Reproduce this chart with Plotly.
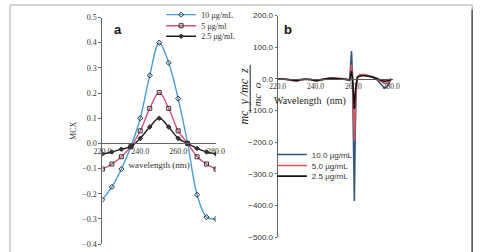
import plotly.graph_objects as go

W, H = 485, 252

# ---------------- data: panel a ----------------
wl_a = [220, 225, 230, 235, 240, 245, 250, 255, 260, 265, 270, 275, 280]
a_10 = [-0.223, -0.173, -0.102, -0.013, 0.100, 0.270, 0.400, 0.320, 0.178, 0.000, -0.204, -0.293, -0.300]
a_5 = [-0.102, -0.082, -0.053, -0.013, 0.050, 0.139, 0.202, 0.139, 0.050, 0.000, -0.053, -0.082, -0.102]
a_25 = [-0.042, -0.034, -0.023, -0.013, 0.020, 0.065, 0.100, 0.065, 0.020, 0.000, -0.020, -0.034, -0.042]
names_a = ["10 µg/mL", "5 µg/ml", "2.5 µg/mL"]
ticks_a_x = [220, 240, 260, 280]
ticks_a_y = [-0.4, -0.3, -0.2, -0.1, 0.0, 0.1, 0.2, 0.3, 0.4, 0.5]

# ---------------- data: panel b ----------------
wl_b = [220, 222, 224, 226, 228, 229, 230, 231, 232, 234, 236, 238, 239, 240, 241, 242, 244, 246, 248, 250,
        252, 254, 256, 257, 258, 258.5, 259, 259.5, 260, 260.5, 261, 261.5, 262, 263, 264, 266, 268, 270,
        272, 274, 275, 276, 277, 278, 279, 280]
b_10 = [0, 0, -1, -3, -5, -6, -6, -5, -3, -1, -1, -3, -6, -7, -6, -4, -1, 1, 2, 2,
        1, 0, -1, -3, -5, 40, 88, 10, -200, -385, -150, -20, 5, 10, 12, 12, 10, 6,
        0, -12, -20, -26, -27, -22, -12, 0]
b_5 = [0, 0, -1, -3, -5, -6, -6, -5, -3, -1, -1, -3, -6, -7, -6, -4, -1, 1, 2, 3,
       2, 1, 0, -2, -4, 20, 45, 5, -100, -195, -80, -10, 5, 12, 14, 14, 12, 8,
       2, -6, -10, -13, -14, -12, -7, 0]
b_25 = [0, 0, -1, -2, -4, -5, -5, -4, -2, -1, -1, -2, -5, -6, -5, -3, -1, 1, 2, 2,
        1, 0, -1, -2, -3, 12, 25, 2, -50, -95, -40, -5, 4, 8, 10, 10, 9, 6,
        2, -3, -5, -7, -7, -6, -4, 0]
names_b = ["10.0 µg/mL", "5.0 µg/mL", "2.5 µg/mL"]
ticks_b_x = [220, 240, 260, 280]
ticks_b_y = [-500, -400, -300, -200, -100, 0, 100, 200]

SERIF = "Liberation Serif"
SANS = "Liberation Sans"


def fx(px):
    return px / W


def fy(py):
    return 1 - py / H


# layout geometry (pixels)
ax_a = dict(x0=97, x1=215, y0=249, y1=14)
ax_b = dict(x0=279, x1=399, y0=242, y1=12)
ya_rng = [-0.4, 0.5]
yb_rng = [-500, 200]

dom_a_y = [fy(ax_a["y0"]), fy(ax_a["y1"])]
dom_b_y = [fy(ax_b["y0"]), fy(ax_b["y1"])]
zero_a = dom_a_y[0] + (0 - ya_rng[0]) / (ya_rng[1] - ya_rng[0]) * (dom_a_y[1] - dom_a_y[0])
zero_b = dom_b_y[0] + (0 - yb_rng[0]) / (yb_rng[1] - yb_rng[0]) * (dom_b_y[1] - dom_b_y[0])

fig = go.Figure()

cols_a = ["#4a9cd6", "#d9507e", "#1e1e1e"]
syms_a = ["diamond-open", "square-open", "diamond"]
msz_a = [4, 4, 3.5]
legs = ["legend", "legend2", "legend3", "legend4", "legend5", "legend6"]
for i, (ys, nm) in enumerate(zip([a_10, a_5, a_25], names_a)):
    fig.add_trace(go.Scatter(
        x=wl_a, y=ys, name=nm, mode="lines+markers",
        line=dict(color=cols_a[i], width=1.4, shape="spline", smoothing=1.0),
        marker=dict(symbol=syms_a[i], size=msz_a[i], color="#333333",
                    line=dict(color="#333333", width=1)),
        xaxis="x", yaxis="y", legend=legs[i]))

cols_b = ["#35567e", "#d9575a", "#141414"]
for i, (ys, nm) in enumerate(zip([b_10, b_5, b_25], names_b)):
    fig.add_trace(go.Scatter(
        x=wl_b, y=ys, name=nm, mode="lines",
        line=dict(color=cols_b[i], width=1.6),
        xaxis="x2", yaxis="y2", legend=legs[3 + i]))

tick_font_a = dict(family=SERIF, size=8, color="#333")
fig.update_layout(
    width=W, height=H, autosize=False,
    margin=dict(l=0, r=0, t=0, b=0),
    paper_bgcolor="white", plot_bgcolor="rgba(0,0,0,0)",
    xaxis=dict(domain=[fx(ax_a["x0"]), fx(ax_a["x1"])], range=[220, 280],
               anchor="free", position=zero_a,
               tickvals=ticks_a_x, tickformat=".1f", tickfont=tick_font_a,
               showgrid=False, zeroline=False, showline=True, linecolor="#666", linewidth=1,
               ticks="", title=dict(text="wavelength (nm)", font=dict(family=SERIF, size=9, color="#333"),
                                    standoff=6)),
    yaxis=dict(domain=dom_a_y, range=ya_rng, anchor="x",
               tickvals=ticks_a_y, tickformat=".1f", tickfont=tick_font_a,
               showgrid=False, zeroline=False, showline=True, linecolor="#666", linewidth=1,
               ticks="outside", ticklen=3, tickcolor="#666",
               title=dict(text="MCX", font=dict(family=SERIF, size=8, color="#333"), standoff=4)),
    xaxis2=dict(domain=[fx(ax_b["x0"]), fx(ax_b["x1"])], range=[220, 281],
                anchor="free", position=zero_b,
                tickvals=ticks_b_x, tickformat=".1f", tickfont=dict(family=SERIF, size=7.5, color="#333"),
                showgrid=False, zeroline=False, showline=True, linecolor="#555", linewidth=1, ticks=""),
    yaxis2=dict(domain=dom_b_y, range=yb_rng, anchor="x2",
                tickvals=ticks_b_y, tickformat=".1f", tickfont=dict(family=SANS, size=8, color="#333"),
                showgrid=False, zeroline=False, showline=True, linecolor="#666", linewidth=1,
                ticks="outside", ticklen=2, tickcolor="#666"),
    showlegend=True,
)

leg_a_font = dict(family=SERIF, size=8, color="#333")
leg_b_font = dict(family=SANS, size=8, color="#333")
leg_a_y = [11, 22.5, 33.5]
leg_b_y = [156, 167.5, 178.5]
for i in range(3):
    fig.update_layout({legs[i]: dict(x=fx(158), y=fy(leg_a_y[i]), xanchor="left", yanchor="middle",
                                     bgcolor="rgba(0,0,0,0)", font=leg_a_font, borderwidth=0)})
    fig.update_layout({legs[3 + i]: dict(x=fx(273), y=fy(leg_b_y[i]), xanchor="left", yanchor="middle",
                                         bgcolor="rgba(0,0,0,0)", font=leg_b_font, borderwidth=0)})

# panel letters and extra text
fig.add_annotation(x=fx(107), y=fy(17), xref="paper", yref="paper", text="<b>a</b>", showarrow=False,
                   font=dict(family=SANS, size=13, color="#111"))
fig.add_annotation(x=fx(290), y=fy(17), xref="paper", yref="paper", text="<b>b</b>", showarrow=False,
                   font=dict(family=SANS, size=13, color="#111"))
fig.add_annotation(x=fx(313), y=fy(101), xref="paper", yref="paper", text="Wavelength  (nm)",
                   showarrow=False, font=dict(family=SERIF, size=10, color="#222"))
fig.add_annotation(x=fx(244), y=fy(95), xref="paper", yref="paper", text="<i>mc  y /mc  z</i>",
                   textangle=-90, showarrow=False, font=dict(family=SERIF, size=12, color="#222"))
fig.add_annotation(x=fx(257.5), y=fy(94), xref="paper", yref="paper", text="<i>mc  o</i>",
                   textangle=-90, showarrow=False, font=dict(family=SERIF, size=11, color="#222"))
fig.add_shape(type="line", xref="paper", yref="paper", x0=fx(250.5), x1=fx(250.5), y0=fy(63), y1=fy(113),
              line=dict(color="#222", width=1))

# figure frame
fig.add_shape(type="rect", xref="paper", yref="paper", x0=fx(1), x1=fx(481), y0=fy(270), y1=fy(1),
              line=dict(color="#aaaaaa", width=1))
fig.add_shape(type="line", xref="paper", yref="paper", x0=fx(481), x1=fx(481), y0=fy(260), y1=fy(6),
              line=dict(color="#555555", width=1.5))

fig.write_html("out.html")
